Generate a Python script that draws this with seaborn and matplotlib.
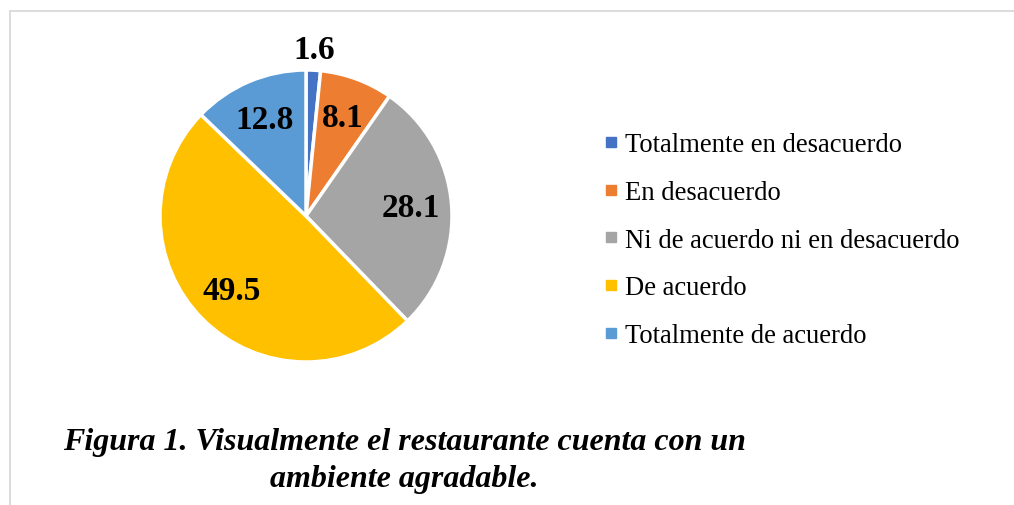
import matplotlib.pyplot as plt
import seaborn as sns
from matplotlib.lines import Line2D
from matplotlib.patches import Rectangle
import numpy as np

# --- Data ---
categories = [
    "Totalmente en desacuerdo",
    "En desacuerdo",
    "Ni de acuerdo ni en desacuerdo",
    "De acuerdo",
    "Totalmente de acuerdo",
]
percentages = [1.6, 8.1, 28.1, 49.5, 12.8]
slice_colors = ["#4472C4", "#ED7D31", "#A5A5A5", "#FFC000", "#5B9BD5"]
title_text = "Figura 1. Visualmente el restaurante cuenta con un\nambiente agradable."

sns.set_theme(style="white")
plt.rcParams["font.family"] = ["Liberation Serif", "DejaVu Serif"]
plt.rcParams["text.color"] = "black"

fig = plt.figure(figsize=(10.14, 5.06), dpi=100)
ax = fig.add_axes([160 / 1014, 1 - 363 / 506, 292 / 1014, 292 / 506])

wedges, texts = ax.pie(
    percentages,
    colors=slice_colors,
    startangle=90,
    counterclock=False,
    labels=[f"{v:.1f}" for v in percentages],
    labeldistance=0.72,
    wedgeprops={"edgecolor": "white", "linewidth": 2.5},
    textprops={"fontsize": 24, "fontweight": "bold", "color": "black",
               "ha": "center", "va": "center"},
)
ax.set_xlim(-1, 1)
ax.set_ylim(-1, 1)
ax.set_aspect("equal")

# tiny first slice: its label sits outside the pie
w = wedges[0]
mid = np.deg2rad((w.theta1 + w.theta2) / 2)
texts[0].set_position((1.14 * np.cos(mid), 1.14 * np.sin(mid)))
texts[0].set_ha("center")

# legend
handles = [Line2D([], [], marker="s", linestyle="none", markersize=6.5,
                  markerfacecolor=c, markeredgecolor=c) for c in slice_colors]
fig.legend(handles, categories, loc="center left",
           bbox_to_anchor=(590 / 1014, 1 - 241 / 506),
           frameon=False, fontsize=19.2, labelcolor="black",
           handlelength=0.6, handletextpad=0.2,
           labelspacing=0.85, borderpad=0)

# caption
fig.text(404 / 1014, 1 - 461 / 506, title_text, ha="center", va="center",
         fontsize=23, fontweight="bold", fontstyle="italic", linespacing=1.35)

# light frame around the chart area
fig.patches.append(Rectangle((10 / 1014, -0.2), 1.2, 1.2 - 12 / 506,
                             transform=fig.transFigure, fill=False,
                             edgecolor="#d9d9d9", linewidth=1.3))

fig.savefig("out.png", dpi=100)
